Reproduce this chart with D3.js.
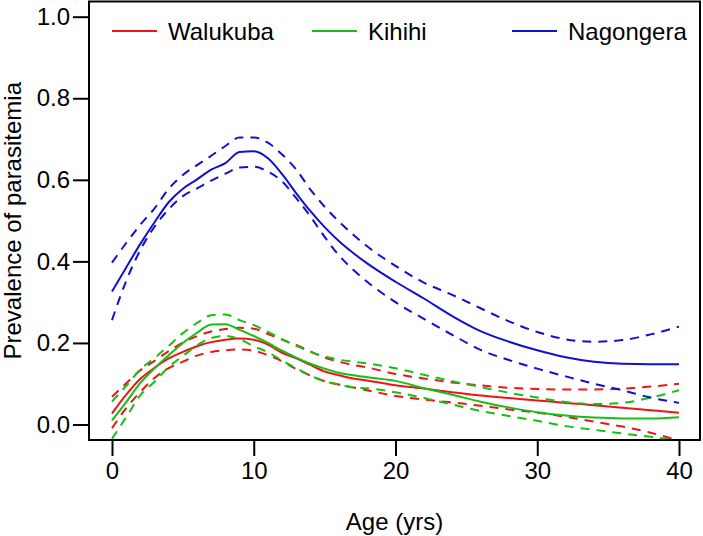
<!DOCTYPE html>
<html>
<head>
<meta charset="utf-8">
<script src="https://cdn.jsdelivr.net/npm/d3@7"></script>
<style>
  html, body { margin: 0; padding: 0; background: #fff; }
  svg { display: block; font-family: "Liberation Sans", Arial, sans-serif; }
</style>
</head>
<body>
<svg id="chart" width="703" height="536"></svg>
<script>
// ---- data ----
const ages = [0,1,2,3,4,5,6,7,8,9,10,11,12,13,14,15,16,17,18,20,22,24,26,28,30,32,34,36,38,40];

const walukubaFit   = [0.027,0.073,0.112,0.139,0.162,0.178,0.192,0.202,0.208,0.211,0.208,0.196,0.176,0.162,0.146,0.130,0.121,0.113,0.108,0.096,0.088,0.079,0.071,0.065,0.059,0.053,0.047,0.041,0.035,0.029];
const walukubaUpper = [0.068,0.101,0.133,0.156,0.180,0.201,0.217,0.228,0.234,0.237,0.235,0.222,0.208,0.195,0.179,0.164,0.154,0.146,0.140,0.124,0.113,0.103,0.096,0.090,0.087,0.086,0.086,0.088,0.093,0.100];
const walukubaLower = [-0.009,0.040,0.080,0.114,0.138,0.154,0.169,0.178,0.182,0.184,0.181,0.170,0.155,0.136,0.120,0.106,0.098,0.091,0.084,0.070,0.061,0.054,0.046,0.037,0.029,0.019,0.007,-0.005,-0.020,-0.040];

const kihihiFit   = [0.010,0.055,0.102,0.138,0.170,0.200,0.225,0.245,0.246,0.232,0.217,0.200,0.181,0.164,0.149,0.137,0.127,0.121,0.116,0.107,0.089,0.073,0.056,0.042,0.030,0.022,0.017,0.015,0.015,0.018];
const kihihiUpper = [0.056,0.095,0.135,0.163,0.193,0.224,0.249,0.268,0.270,0.256,0.244,0.227,0.209,0.193,0.178,0.167,0.159,0.154,0.150,0.138,0.122,0.106,0.092,0.078,0.066,0.055,0.050,0.053,0.066,0.084];
const kihihiLower = [-0.035,0.018,0.072,0.105,0.141,0.168,0.194,0.212,0.217,0.209,0.192,0.177,0.157,0.138,0.120,0.106,0.098,0.091,0.089,0.079,0.065,0.049,0.033,0.021,0.009,-0.004,-0.013,-0.022,-0.030,-0.040];

const nagongeraFit   = [0.326,0.385,0.443,0.496,0.545,0.578,0.601,0.625,0.641,0.668,0.670,0.653,0.614,0.567,0.523,0.484,0.450,0.421,0.395,0.350,0.309,0.266,0.229,0.203,0.182,0.165,0.154,0.149,0.148,0.148];
const nagongeraUpper = [0.397,0.445,0.490,0.530,0.578,0.612,0.636,0.659,0.683,0.704,0.704,0.691,0.662,0.625,0.576,0.534,0.498,0.466,0.437,0.389,0.348,0.318,0.285,0.253,0.227,0.209,0.203,0.207,0.221,0.240];
const nagongeraLower = [0.256,0.352,0.428,0.485,0.528,0.560,0.579,0.598,0.615,0.630,0.632,0.620,0.596,0.555,0.510,0.460,0.415,0.380,0.350,0.300,0.259,0.220,0.183,0.158,0.137,0.118,0.100,0.084,0.066,0.053];

const seriesNames = ["Walukuba", "Kihihi", "Nagongera"];
const xTicks = [0, 10, 20, 30, 40];
const yTicks = [0.0, 0.2, 0.4, 0.6, 0.8, 1.0];

// ---- layout ----
const colors = ["#f01414", "#14c014", "#1010d0"];
const box = {left: 89, right: 700, top: 1.5, bottom: 440};
const svg = d3.select("#chart");

const x = d3.scaleLinear().domain([0, 40]).range([112, 679]);
const y = d3.scaleLinear().domain([0, 1]).range([424.5, 16.7]);

const series = [
  {fit: walukubaFit, upper: walukubaUpper, lower: walukubaLower},
  {fit: kihihiFit, upper: kihihiUpper, lower: kihihiLower},
  {fit: nagongeraFit, upper: nagongeraUpper, lower: nagongeraLower}
];

svg.append("defs").append("clipPath").attr("id", "plotclip")
  .append("rect")
  .attr("x", box.left).attr("y", box.top)
  .attr("width", box.right - box.left).attr("height", box.bottom - box.top);

const line = d3.line()
  .x((d, i) => x(ages[i]))
  .y(d => y(d))
  .curve(d3.curveMonotoneX);

const g = svg.append("g").attr("clip-path", "url(#plotclip)");
series.forEach((s, k) => {
  [s.upper, s.lower].forEach(arr => {
    g.append("path").datum(arr)
      .attr("d", line)
      .attr("fill", "none")
      .attr("stroke", colors[k])
      .attr("stroke-width", 2)
      .attr("stroke-dasharray", "9,7");
  });
  g.append("path").datum(s.fit)
    .attr("d", line)
    .attr("fill", "none")
    .attr("stroke", colors[k])
    .attr("stroke-width", 2);
});

// box
svg.append("rect")
  .attr("x", box.left).attr("y", box.top)
  .attr("width", box.right - box.left).attr("height", box.bottom - box.top)
  .attr("fill", "none").attr("stroke", "#000").attr("stroke-width", 2);

// axes
const xAxis = d3.axisBottom(x).tickValues(xTicks).tickSize(16).tickPadding(6).tickFormat(d3.format("d"));
const xg = svg.append("g").attr("transform", `translate(0,${box.bottom})`).call(xAxis);
xg.select(".domain").remove();
xg.selectAll("line").attr("stroke", "#000").attr("stroke-width", 2);
xg.selectAll("text").attr("font-size", 24).attr("fill", "#000")
  .attr("font-family", "'Liberation Sans', Arial, sans-serif");

const yAxis = d3.axisLeft(y).tickValues(yTicks).tickSize(16).tickPadding(3).tickFormat(d3.format(".1f"));
const yg = svg.append("g").attr("transform", `translate(${box.left},0)`).call(yAxis);
yg.select(".domain").remove();
yg.selectAll("line").attr("stroke", "#000").attr("stroke-width", 2);
yg.selectAll("text").attr("font-size", 24).attr("fill", "#000")
  .attr("font-family", "'Liberation Sans', Arial, sans-serif");

// axis titles
svg.append("text")
  .attr("x", (box.left + box.right) / 2).attr("y", 530)
  .attr("text-anchor", "middle").attr("font-size", 24).attr("fill", "#000")
  .text("Age (yrs)");
svg.append("text")
  .attr("transform", `translate(21,${(box.top + box.bottom) / 2}) rotate(-90)`)
  .attr("text-anchor", "middle").attr("font-size", 24).attr("fill", "#000")
  .text("Prevalence of parasitemia");

// legend
const legendX = [112, 312, 512];
seriesNames.forEach((name, k) => {
  svg.append("line")
    .attr("x1", legendX[k]).attr("x2", legendX[k] + 45)
    .attr("y1", 31).attr("y2", 31)
    .attr("stroke", colors[k]).attr("stroke-width", 2);
  svg.append("text")
    .attr("x", legendX[k] + 56).attr("y", 40)
    .attr("font-size", 24).attr("fill", "#000")
    .text(name);
});
</script>
</body>
</html>
